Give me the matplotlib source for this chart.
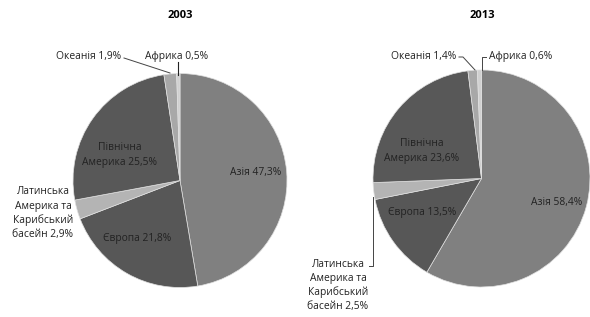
import matplotlib.pyplot as plt

regions = ['Азія', 'Європа', 'Латинська\nАмерика та\nКарибський\nбасейн', 'Північна\nАмерика', 'Океанія', 'Африка']
share_2003 = [47.3, 21.8, 2.9, 25.5, 1.9, 0.5]
share_2013 = [58.4, 13.5, 2.5, 23.6, 1.4, 0.6]
years = ['2003', '2013']

colors = ['#808080', '#575757', '#b4b4b4', '#585858', '#a8a8a8', '#d0d0d0']

W, H = 590, 317
fig = plt.figure(figsize=(5.9, 3.17), dpi=100)
ax = fig.add_axes([0, 0, 1, 1])

def fmt(v):
    return ('%.1f%%' % v).replace('.', ',')

def py(y):
    # pixel row -> data y
    return H - y

pies = [(share_2003, (180, py(180.5)), 107), (share_2013, (481.5, py(178.5)), 108.5)]
for vals, c, r in pies:
    ax.pie(vals, colors=colors, startangle=90, counterclock=False, center=c, radius=r,
           frame=True, wedgeprops=dict(edgecolor='#e0e0e0', linewidth=0.5))

fs = 7.4
fam = 'Open Sans'
kw = dict(fontsize=fs, family=fam, ha='center', va='center', color='#222222')

def label(x, y, name, v, step=14):
    # one text per line so the spacing stays even
    lines = (name + ' ' + fmt(v)).split('\n')
    y0 = y - step * (len(lines) - 1) / 2
    for i, s in enumerate(lines):
        ax.text(x, py(y0 + i * step), s, **kw)

# titles
ax.text(180, py(15), years[0], fontsize=8, weight='bold', ha='center', va='center', family=fam)
ax.text(482, py(15), years[1], fontsize=8, weight='bold', ha='center', va='center', family=fam)

# 2003 labels
label(256, 172, regions[0], share_2003[0])
label(137, 238, regions[1], share_2003[1])
label(43, 213, regions[2], share_2003[2])
label(120, 155, regions[3], share_2003[3], step=16)
label(89, 57, regions[4], share_2003[4])
label(177, 57, regions[5], share_2003[5])
ax.plot([124, 170], [py(58), py(73)], color='#444444', lw=0.7)
ax.plot([178, 178], [py(62), py(75)], color='#222222', lw=0.8)

# 2013 labels
label(557, 203, regions[0], share_2013[0])
label(422, 213, regions[1], share_2013[1])
label(338, 285.5, regions[2], share_2013[2])
label(422, 151, regions[3], share_2013[3], step=16)
label(424, 56, regions[4], share_2013[4])
label(521, 56, regions[5], share_2013[5])
ax.plot([459, 463, 475], [py(57), py(57), py(70)], color='#444444', lw=0.7)
ax.plot([486, 482, 482], [py(57), py(57), py(70)], color='#444444', lw=0.7)
ax.plot([369, 373, 373], [py(266), py(266), py(197)], color='#444444', lw=0.7)

ax.set_xlim(0, W)
ax.set_ylim(0, H)
ax.set_aspect('equal')
ax.axis('off')

fig.savefig('out.png', dpi=100)
